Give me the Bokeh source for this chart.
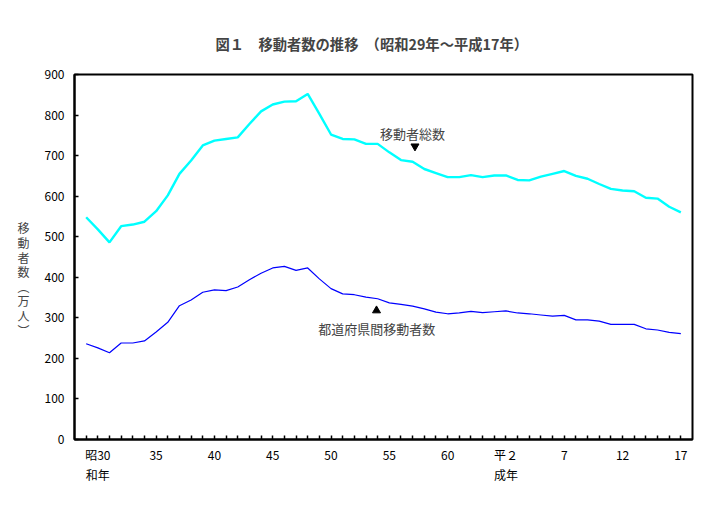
from bokeh.plotting import figure
from bokeh.models import FixedTicker, Label, Range1d
from bokeh.embed import file_html
from bokeh.resources import INLINE

years = list(range(1954, 2006))
total = [548, 518, 486, 526, 530, 537, 563, 602, 655, 688,
         725, 737, 741, 745, 778, 809, 826, 833, 834, 852,
         803, 752, 741, 740, 729, 729, 708, 689, 685, 667,
         657, 647, 647, 652, 647, 651, 651, 640, 639, 648,
         655, 662, 650, 643, 630, 618, 614, 612, 596, 594,
         574, 560]
inter = [236, 226, 214, 238, 238, 243, 265, 289, 330, 344,
         363, 369, 367, 376, 394, 410, 423, 427, 417, 423,
         396, 372, 359, 357, 351, 347, 337, 333, 329, 322,
         314, 310, 312, 316, 313, 315, 317, 312, 310, 307,
         304, 306, 295, 295, 292, 284, 284, 284, 273, 270,
         264, 261]
tick_years = [1955, 1960, 1965, 1970, 1975, 1980, 1985, 1990, 1995, 2000, 2005]
tick_labels = ["昭30\n和年", "35", "40", "45", "50", "55", "60", "平２\n成年", "7", "12", "17"]
y_ticks = list(range(0, 901, 100))

title_text = "図１　移動者数の推移　（昭和29年～平成17年）"
ylabel_text = "移動者数︵万人︶"
label_total = "移動者総数"
label_inter = "都道府県間移動者数"

FONT = "Noto Sans CJK JP"

p = figure(width=705, height=511, output_backend="svg", toolbar_location=None,
           x_range=Range1d(1953, 2006), y_range=Range1d(0, 900),
           min_border_left=74, min_border_right=13, min_border_top=74, min_border_bottom=72)
p.xgrid.visible = False
p.ygrid.visible = False
p.outline_line_color = "black"
p.outline_line_width = 2
p.background_fill_color = "white"
p.border_fill_color = "white"

p.title.text = title_text
p.title.align = "left"
p.title.text_font = FONT
p.title.text_font_size = "14.3px"
p.title.text_font_style = "bold"
p.title.offset = 141
p.title.standoff = 42

p.line(years, total, line_color="#00FFFF", line_width=2.4)
p.line(years, inter, line_color="#0000FF", line_width=1.2)

# axes
p.xaxis.ticker = FixedTicker(ticks=years)
p.xaxis.major_label_overrides = {y: "" for y in years}
p.xaxis.major_label_overrides.update({y: t for y, t in zip(tick_years, tick_labels)})
p.xaxis.minor_tick_line_color = None
p.xaxis.major_tick_in = 4
p.xaxis.major_tick_out = 0
p.xaxis.major_label_standoff = 6
p.yaxis.ticker = FixedTicker(ticks=y_ticks)
p.yaxis.minor_tick_line_color = None
p.yaxis.major_tick_in = 4
p.yaxis.major_tick_out = 0
p.yaxis.major_label_standoff = 10
p.yaxis.axis_label = "\n\n\n" + "\n".join(ylabel_text)
p.yaxis.axis_label_orientation = "horizontal"
p.yaxis.axis_label_text_font = FONT
p.yaxis.axis_label_text_font_size = "12px"
p.yaxis.axis_label_text_font_style = "normal"
p.yaxis.axis_label_text_line_height = 0.86
p.yaxis.axis_label_standoff = 12
for ax in (p.xaxis, p.yaxis):
    ax.axis_line_width = 2
    ax.axis_line_color = "black"
    ax.major_tick_line_color = "black"
    ax.major_tick_line_width = 1.5
    ax.major_label_text_font = FONT
    ax.major_label_text_font_size = "12px"
    ax.major_label_text_color = "black"

# markers for annotations
p.scatter([1982.2], [723], marker="inverted_triangle", size=8, color="black")
p.scatter([1978.9], [318], marker="triangle", size=8, color="black")

p.add_layout(Label(x=1979.2, y=754, text=label_total, text_font=FONT,
                   text_font_size="13px", text_baseline="middle", text_align="left"))
p.add_layout(Label(x=1973.9, y=274, text=label_inter, text_font=FONT,
                   text_font_size="13px", text_baseline="middle", text_align="left"))

open("out.html", "w").write(file_html(p, INLINE))
